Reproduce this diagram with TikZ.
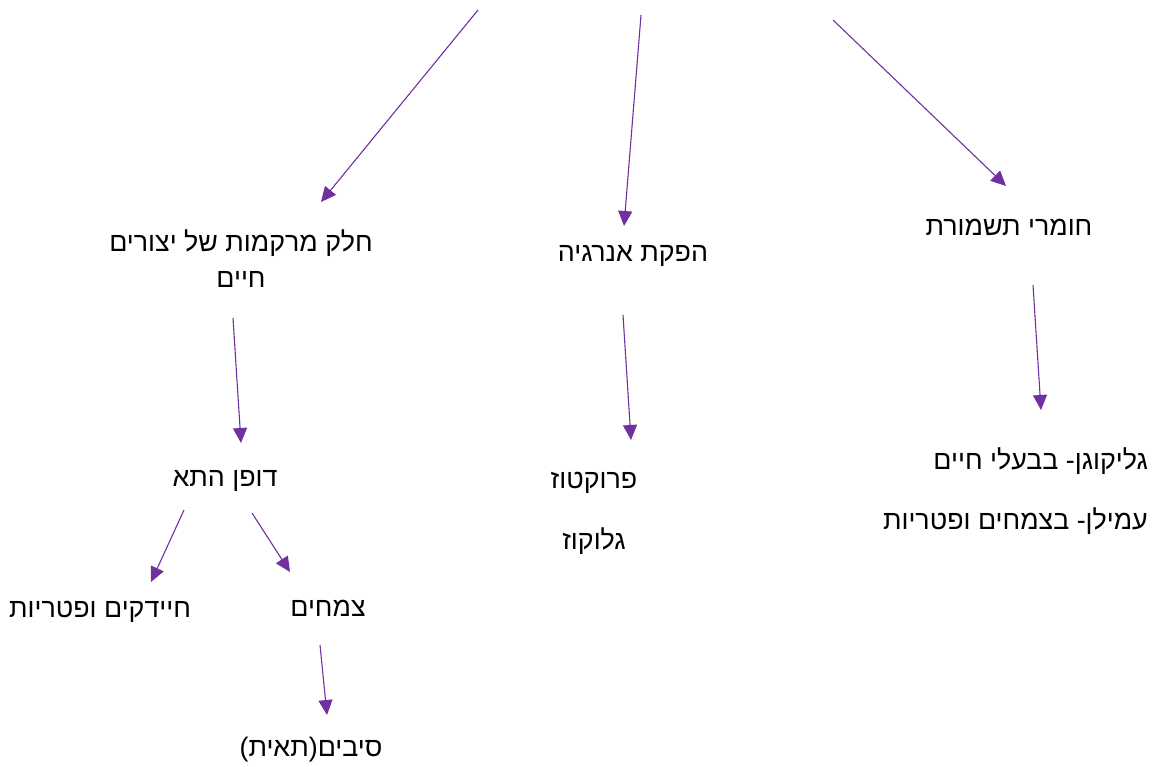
\documentclass[tikz,border=0pt]{standalone}
\usepackage{fontspec}
\newfontfamily\hebfont[Script=Hebrew]{Liberation Sans}
\TeXXeTstate=1
\usetikzlibrary{arrows.meta}
\definecolor{arr}{HTML}{7030A0}
\tikzset{
  lbl/.style={font=\hebfont\fontsize{26.8}{32}\selectfont, inner sep=0pt, text=black},
  conn/.style={draw=arr, line width=1.1pt, -{Triangle[length=15pt,width=14pt]}}
}
\newcommand{\heb}[1]{\beginR #1\endR}
\begin{document}
\begin{tikzpicture}[x=1pt,y=-1pt]
\useasboundingbox (0,0) rectangle (1155,767);
% text nodes
\node[lbl] (tissue1) at (241,243) {\heb{חלק מרקמות של יצורים}};
\node[lbl] (tissue2) at (241,279) {\heb{חיים}};
\node[lbl] (energy) at (633,256) {\heb{הפקת אנרגיה}};
\node[lbl] (storage) at (1009,227) {\heb{חומרי תשמורת}};
\node[lbl] (wall) at (225,481) {\heb{דופן התא}};
\node[lbl] (fruct) at (594,483) {\heb{פרוקטוז}};
\node[lbl] (gluc) at (594,541) {\heb{גלוקוז}};
\node[lbl, anchor=east] (glyco) at (1148,461) {\heb{גליקוגן- בבעלי חיים}};
\node[lbl, anchor=east] (starch) at (1148,521) {\heb{עמילן- בצמחים ופטריות}};
\node[lbl] (bact) at (100,612) {\heb{חיידקים ופטריות}};
\node[lbl] (plants) at (328,608) {\heb{צמחים}};
\node[lbl] (fibers) at (311,750) {\heb{סיבים(תאית)}};
% connector end points
\coordinate (a1s) at (478,10);  \coordinate (a1e) at (321,202);
\coordinate (a2s) at (641,15);  \coordinate (a2e) at (624,226);
\coordinate (a3s) at (833,20);  \coordinate (a3e) at (1006,186);
\coordinate (a4s) at (233,318); \coordinate (a4e) at (241,443);
\coordinate (a5s) at (623,315); \coordinate (a5e) at (631,440);
\coordinate (a6s) at (1033,285); \coordinate (a6e) at (1041,410);
\coordinate (a7s) at (184,510); \coordinate (a7e) at (151,582);
\coordinate (a8s) at (252,513); \coordinate (a8e) at (290,572);
\coordinate (a9s) at (320,645); \coordinate (a9e) at (327,715);
\foreach \i in {1,...,9} {\draw[conn] (a\i s) -- (a\i e);}
\end{tikzpicture}
\end{document}
